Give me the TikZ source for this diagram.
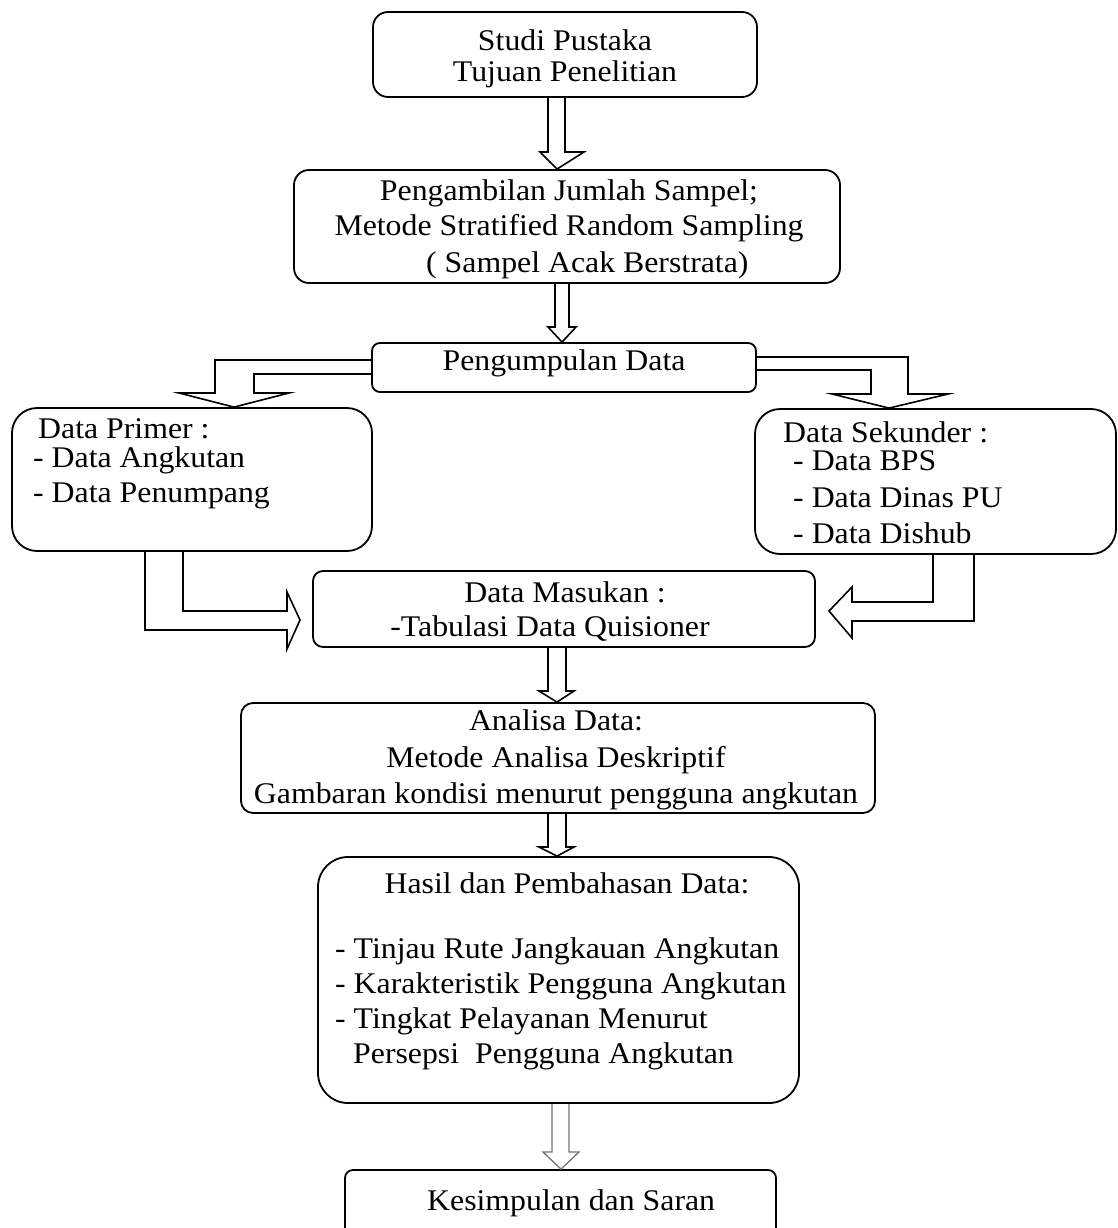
\documentclass[tikz,border=0pt]{standalone}
\usepackage{fontspec}
\setmainfont{Liberation Serif}[FakeStretch=1.06]
\usetikzlibrary{calc}
\begin{document}
\begin{tikzpicture}[x=1pt,y=-1pt,
  box/.style={draw, line width=1.8pt, rounded corners=#1, inner sep=0pt},
  box/.default=12pt,
  txt/.style={inner sep=0pt, font=\fontsize{30}{35}\selectfont},
  blk/.style={draw, line width=1.6pt, line join=miter},
  blkgray/.style={draw=black!55, line width=1.3pt, line join=miter}]
\clip (0,0) rectangle (1117,1228);
% boxes
\node[box=15pt, minimum width=384pt, minimum height=85pt]  (b1) at (565,54.5) {};
\node[box=15pt, minimum width=546pt, minimum height=113pt] (b2) at (567,226.5) {};
\node[box=8pt,  minimum width=384pt, minimum height=49pt]  (b3) at (564,367.5) {};
\node[box=25pt, minimum width=360pt, minimum height=143pt] (b4) at (192,479.5) {};
\node[box=25pt, minimum width=361pt, minimum height=145pt] (b5) at (935.5,481.5) {};
\node[box=10pt, minimum width=502pt, minimum height=76pt]  (b6) at (564,609) {};
\node[box=12pt, minimum width=634pt, minimum height=110pt] (b7) at (558,758) {};
\node[box=30pt, minimum width=481pt, minimum height=246pt] (b8) at (558.5,980) {};
\node[box=8pt,  minimum width=431pt, minimum height=75pt]  (b9) at (560.5,1207.5) {};
% texts
\node[txt, anchor=base] (t1a) at (565,51) {Studi Pustaka};
\node[txt, anchor=base] (t1b) at (565,82) {Tujuan Penelitian};
\node[txt, anchor=base] (t2a) at (569,200) {Pengambilan Jumlah Sampel;};
\node[txt, anchor=base] (t2b) at (569,235) {Metode Stratified Random Sampling};
\node[txt, anchor=base west] (t2c) at (426,272) {( Sampel Acak Berstrata)};
\node[txt, anchor=base] (t3) at (564,370) {Pengumpulan Data};
\node[txt, anchor=base west] (t4a) at (38,438) {Data Primer :};
\node[txt, anchor=base west] (t4b) at (33,467) {- Data Angkutan};
\node[txt, anchor=base west] (t4c) at (33,502) {- Data Penumpang};
\node[txt, anchor=base west] (t5a) at (783,442) {Data Sekunder :};
\node[txt, anchor=base west] (t5b) at (793,470) {- Data BPS};
\node[txt, anchor=base west] (t5c) at (793,507) {- Data Dinas PU};
\node[txt, anchor=base west] (t5d) at (793,543) {- Data Dishub};
\node[txt, anchor=base] (t6a) at (565,602) {Data Masukan :};
\node[txt, anchor=base] (t6b) at (550,636) {-Tabulasi Data Quisioner};
\node[txt, anchor=base] (t7a) at (556,730) {Analisa Data:};
\node[txt, anchor=base] (t7b) at (556,767) {Metode Analisa Deskriptif};
\node[txt, anchor=base] (t7c) at (556,803) {Gambaran kondisi menurut pengguna angkutan};
\node[txt, anchor=base] (t8a) at (567,893) {Hasil dan Pembahasan Data:};
\node[txt, anchor=base west] (t8b) at (335,958) {- Tinjau Rute Jangkauan Angkutan};
\node[txt, anchor=base west] (t8c) at (335,993) {- Karakteristik Pengguna Angkutan};
\node[txt, anchor=base west] (t8d) at (335,1028) {- Tingkat Pelayanan Menurut};
\node[txt, anchor=base west] (t8e) at (353,1063) {Persepsi\ \ Pengguna Angkutan};
\node[txt, anchor=base west] (t9) at (427,1210) {Kesimpulan dan Saran};
% block arrows (down)
\draw[blk] (548,0 |- b1.south) -- (548,152) -- (540,152) -- (557,0 |- b2.north)
           -- (584,152) -- (565,152) -- (565,0 |- b1.south);
\draw[blk] (555,0 |- b2.south) -- (555,327) -- (548,327) -- (562,0 |- b3.north)
           -- (576,327) -- (569,327) -- (569,0 |- b2.south);
\draw[blk] (548,0 |- b6.south) -- (548,691) -- (539,691) -- (557,0 |- b7.north)
           -- (574,691) -- (566,691) -- (566,0 |- b6.south);
\draw[blk] (548,0 |- b7.south) -- (548,847) -- (539,847) -- (557,0 |- b8.north)
           -- (574,847) -- (566,847) -- (566,0 |- b7.south);
\draw[blkgray] (552,0 |- b8.south) -- (552,1152) -- (543,1152) -- (561,0 |- b9.north)
           -- (579,1152) -- (569,1152) -- (569,0 |- b8.south);
% bent arrows from Pengumpulan Data
\draw[blk] (b3.west |- 0,360) -- (215,360) -- (215,393) -- (179,393) -- (234,0 |- b4.north)
           -- (289,393) -- (254,393) -- (254,374) -- (b3.west |- 0,374);
\draw[blk] (b3.east |- 0,357) -- (908,357) -- (908,394) -- (948,394) -- (889,0 |- b5.north)
           -- (832,394) -- (871,394) -- (871,370) -- (b3.east |- 0,370);
% bent arrows into Data Masukan
\coordinate (pl) at (300,620);
\coordinate (pr) at (829,611);
\draw[blk] (145,0 |- b4.south) -- (145,630) -- (287,630) -- (287,649) -- (pl)
           -- (287,592) -- (287,611) -- (183,611) -- (183,0 |- b4.south);
\draw[blk] (974,0 |- b5.south) -- (974,621) -- (852,621) -- (852,638) -- (pr)
           -- (852,587) -- (852,602) -- (933,602) -- (933,0 |- b5.south);
\end{tikzpicture}
\end{document}
